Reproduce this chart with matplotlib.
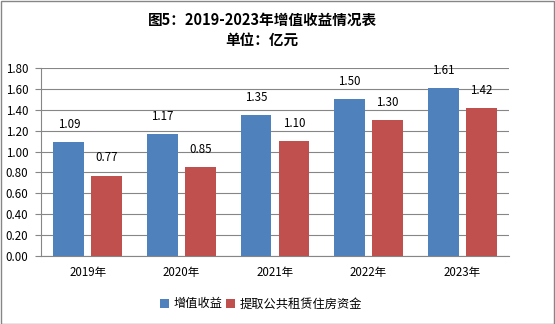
import matplotlib.pyplot as plt
import numpy as np
from matplotlib.patches import Rectangle

plt.rcParams['font.family'] = ['Noto Sans CJK SC', 'DejaVu Sans']

years = ['2019年', '2020年', '2021年', '2022年', '2023年']
zengzhi = [1.09, 1.17, 1.35, 1.50, 1.61]
gongzu = [0.77, 0.85, 1.10, 1.30, 1.42]
names = ['增值收益', '提取公共租赁住房资金']
yticks = [0.0, 0.2, 0.4, 0.6, 0.8, 1.0, 1.2, 1.4, 1.6, 1.8]

fig = plt.figure(figsize=(5.55, 3.24), dpi=100)
W, H = 555, 324
ax = fig.add_axes([41 / W, 1 - 256 / H, 468 / W, 188 / H])

x = np.arange(len(years))
bw = 0.33
b1 = ax.bar(x - 0.203, zengzhi, bw, color='#4F81BD', label=names[0], zorder=3)
b2 = ax.bar(x + 0.203, gongzu, bw, color='#C0504D', label=names[1], zorder=3)

# 数据标签
for bars, vals in ((b1, zengzhi), (b2, gongzu)):
    for b, v in zip(bars, vals):
        ax.annotate('%.2f' % v, (b.get_x() + b.get_width() / 2, v),
                    xytext=(0, 8), textcoords='offset points',
                    ha='center', va='bottom', fontsize=8.3, color='#000000')

ax.set_xlim(-0.5, 4.5)
ax.set_ylim(0, 1.8)
ax.set_yticks(yticks)
ax.set_yticklabels(['%.2f' % t for t in yticks], fontsize=8.3)
ax.set_xticks(x)
ax.set_xticklabels(years, fontsize=8.3)
ax.tick_params(axis='x', length=0, pad=7)
ax.tick_params(axis='y', length=4, color='#868686', pad=5)
ax.grid(axis='y', color='#868686', linewidth=0.8, zorder=0)
for s in ('top', 'right'):
    ax.spines[s].set_visible(False)
ax.spines['left'].set_color('#868686')
ax.spines['bottom'].set_color('#868686')

fig.text(262 / W, 1 - 20 / H, '图5：2019-2023年增值收益情况表', ha='center', va='center',
         fontsize=10.5, fontweight='bold')
fig.text(262 / W, 1 - 40 / H, '单位：亿元', ha='center', va='center',
         fontsize=10.5, fontweight='bold')

fig.legend(loc='center', bbox_to_anchor=(261 / W, 1 - 304 / H), ncol=2, frameon=False,
           fontsize=8.8, handlelength=0.7, handleheight=0.7, handletextpad=0.4,
           columnspacing=0.3)

fig.patches.append(Rectangle((0.5 / W, 0.5 / H), 1 - 1.5 / W, 1 - 1.5 / H,
                             transform=fig.transFigure, fill=False,
                             edgecolor='#868686', linewidth=1))

fig.savefig('out.png', dpi=100)
